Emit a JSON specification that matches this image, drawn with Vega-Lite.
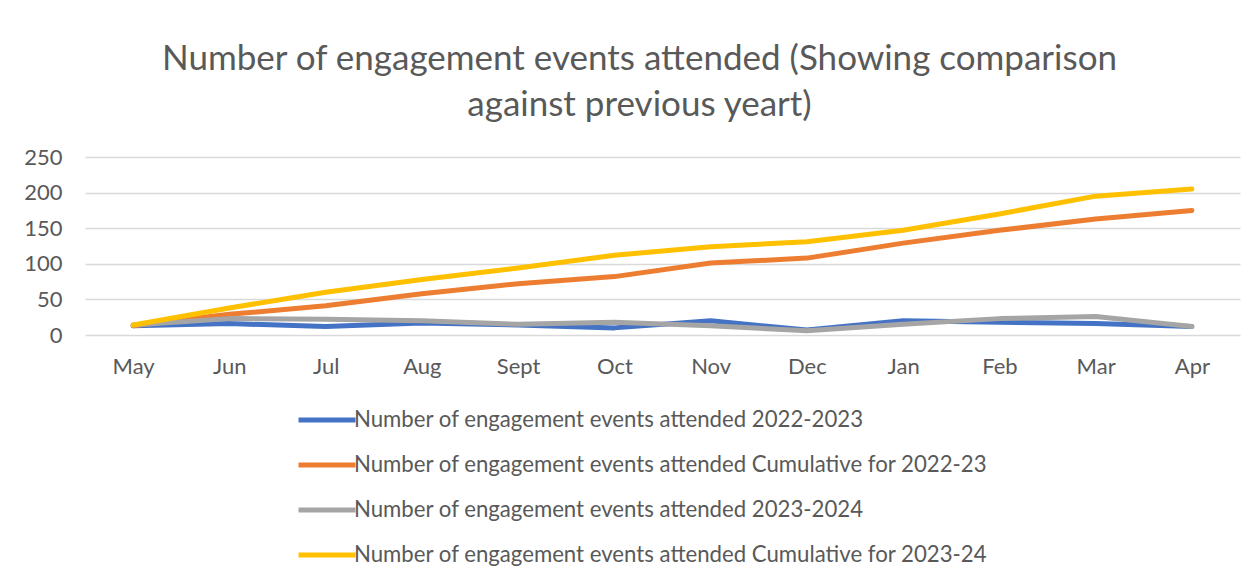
{
  "$schema": "https://vega.github.io/schema/vega-lite/v6.json",
  "autosize": "none",
  "width": 1155,
  "height": 178,
  "padding": {"left": 85, "top": 157, "right": 18, "bottom": 246},
  "background": "white",
  "title": {
    "text": ["Number of engagement events attended (Showing comparison", "against previous yeart)"],
    "font": "Lato",
    "fontWeight": 400,
    "fontSize": 35,
    "lineHeight": 46,
    "color": "#595959",
    "anchor": "middle",
    "frame": "group",
    "dx": -23,
    "offset": 23
  },
  "config": {
    "view": {"stroke": null},
    "font": "Lato"
  },
  "data": {
    "values": [
      {"month": "May", "series": "Number of engagement events attended 2022-2023", "value": 13},
      {"month": "Jun", "series": "Number of engagement events attended 2022-2023", "value": 16},
      {"month": "Jul", "series": "Number of engagement events attended 2022-2023", "value": 12},
      {"month": "Aug", "series": "Number of engagement events attended 2022-2023", "value": 17},
      {"month": "Sept", "series": "Number of engagement events attended 2022-2023", "value": 14},
      {"month": "Oct", "series": "Number of engagement events attended 2022-2023", "value": 10},
      {"month": "Nov", "series": "Number of engagement events attended 2022-2023", "value": 20},
      {"month": "Dec", "series": "Number of engagement events attended 2022-2023", "value": 7},
      {"month": "Jan", "series": "Number of engagement events attended 2022-2023", "value": 20},
      {"month": "Feb", "series": "Number of engagement events attended 2022-2023", "value": 18},
      {"month": "Mar", "series": "Number of engagement events attended 2022-2023", "value": 16},
      {"month": "Apr", "series": "Number of engagement events attended 2022-2023", "value": 12},
      {"month": "May", "series": "Number of engagement events attended Cumulative for 2022-23", "value": 13},
      {"month": "Jun", "series": "Number of engagement events attended Cumulative for 2022-23", "value": 29},
      {"month": "Jul", "series": "Number of engagement events attended Cumulative for 2022-23", "value": 41},
      {"month": "Aug", "series": "Number of engagement events attended Cumulative for 2022-23", "value": 58},
      {"month": "Sept", "series": "Number of engagement events attended Cumulative for 2022-23", "value": 72},
      {"month": "Oct", "series": "Number of engagement events attended Cumulative for 2022-23", "value": 82},
      {"month": "Nov", "series": "Number of engagement events attended Cumulative for 2022-23", "value": 101},
      {"month": "Dec", "series": "Number of engagement events attended Cumulative for 2022-23", "value": 108},
      {"month": "Jan", "series": "Number of engagement events attended Cumulative for 2022-23", "value": 129},
      {"month": "Feb", "series": "Number of engagement events attended Cumulative for 2022-23", "value": 147},
      {"month": "Mar", "series": "Number of engagement events attended Cumulative for 2022-23", "value": 163},
      {"month": "Apr", "series": "Number of engagement events attended Cumulative for 2022-23", "value": 175},
      {"month": "May", "series": "Number of engagement events attended 2023-2024", "value": 14},
      {"month": "Jun", "series": "Number of engagement events attended 2023-2024", "value": 23},
      {"month": "Jul", "series": "Number of engagement events attended 2023-2024", "value": 22},
      {"month": "Aug", "series": "Number of engagement events attended 2023-2024", "value": 20},
      {"month": "Sept", "series": "Number of engagement events attended 2023-2024", "value": 15},
      {"month": "Oct", "series": "Number of engagement events attended 2023-2024", "value": 18},
      {"month": "Nov", "series": "Number of engagement events attended 2023-2024", "value": 13},
      {"month": "Dec", "series": "Number of engagement events attended 2023-2024", "value": 6},
      {"month": "Jan", "series": "Number of engagement events attended 2023-2024", "value": 15},
      {"month": "Feb", "series": "Number of engagement events attended 2023-2024", "value": 23},
      {"month": "Mar", "series": "Number of engagement events attended 2023-2024", "value": 26},
      {"month": "Apr", "series": "Number of engagement events attended 2023-2024", "value": 12},
      {"month": "May", "series": "Number of engagement events attended Cumulative for 2023-24", "value": 14},
      {"month": "Jun", "series": "Number of engagement events attended Cumulative for 2023-24", "value": 38},
      {"month": "Jul", "series": "Number of engagement events attended Cumulative for 2023-24", "value": 60},
      {"month": "Aug", "series": "Number of engagement events attended Cumulative for 2023-24", "value": 78},
      {"month": "Sept", "series": "Number of engagement events attended Cumulative for 2023-24", "value": 94},
      {"month": "Oct", "series": "Number of engagement events attended Cumulative for 2023-24", "value": 112},
      {"month": "Nov", "series": "Number of engagement events attended Cumulative for 2023-24", "value": 124},
      {"month": "Dec", "series": "Number of engagement events attended Cumulative for 2023-24", "value": 131},
      {"month": "Jan", "series": "Number of engagement events attended Cumulative for 2023-24", "value": 147},
      {"month": "Feb", "series": "Number of engagement events attended Cumulative for 2023-24", "value": 170},
      {"month": "Mar", "series": "Number of engagement events attended Cumulative for 2023-24", "value": 195},
      {"month": "Apr", "series": "Number of engagement events attended Cumulative for 2023-24", "value": 205}
    ]
  },
  "mark": {"type": "line", "strokeWidth": 5, "strokeCap": "round", "strokeJoin": "round"},
  "encoding": {
    "x": {
      "field": "month",
      "type": "nominal",
      "sort": ["May", "Jun", "Jul", "Aug", "Sept", "Oct", "Nov", "Dec", "Jan", "Feb", "Mar", "Apr"],
      "scale": {"type": "point", "padding": 0.5},
      "axis": {
        "title": null,
        "labelAngle": 0,
        "labelFont": "Lato",
        "labelFontSize": 22,
        "labelColor": "#595959",
        "labelPadding": 21,
        "ticks": false,
        "domain": false,
        "grid": false
      }
    },
    "y": {
      "field": "value",
      "type": "quantitative",
      "scale": {"domain": [0, 250], "nice": false},
      "axis": {
        "title": null,
        "values": [0, 50, 100, 150, 200, 250],
        "labelFont": "Lato",
        "labelFontSize": 22,
        "labelColor": "#595959",
        "labelPadding": 23,
        "ticks": false,
        "domain": false,
        "grid": true,
        "gridColor": "#D9D9D9",
        "gridWidth": 1.5
      }
    },
    "color": {
      "field": "series",
      "type": "nominal",
      "sort": [
        "Number of engagement events attended 2022-2023",
        "Number of engagement events attended Cumulative for 2022-23",
        "Number of engagement events attended 2023-2024",
        "Number of engagement events attended Cumulative for 2023-24"
      ],
      "scale": {
        "domain": [
          "Number of engagement events attended 2022-2023",
          "Number of engagement events attended Cumulative for 2022-23",
          "Number of engagement events attended 2023-2024",
          "Number of engagement events attended Cumulative for 2023-24"
        ],
        "range": ["#4472C4", "#ED7D31", "#A5A5A5", "#FFC000"]
      },
      "legend": {
        "title": null,
        "orient": "none",
        "legendX": 211,
        "legendY": 232,
        "direction": "vertical",
        "symbolType": "stroke",
        "symbolSize": 3249,
        "symbolStrokeWidth": 5,
        "labelFont": "Lato",
        "labelFontSize": 22.2,
        "labelColor": "#595959",
        "labelOffset": -4,
        "labelLimit": 1000,
        "rowPadding": 2
      }
    }
  }
}
